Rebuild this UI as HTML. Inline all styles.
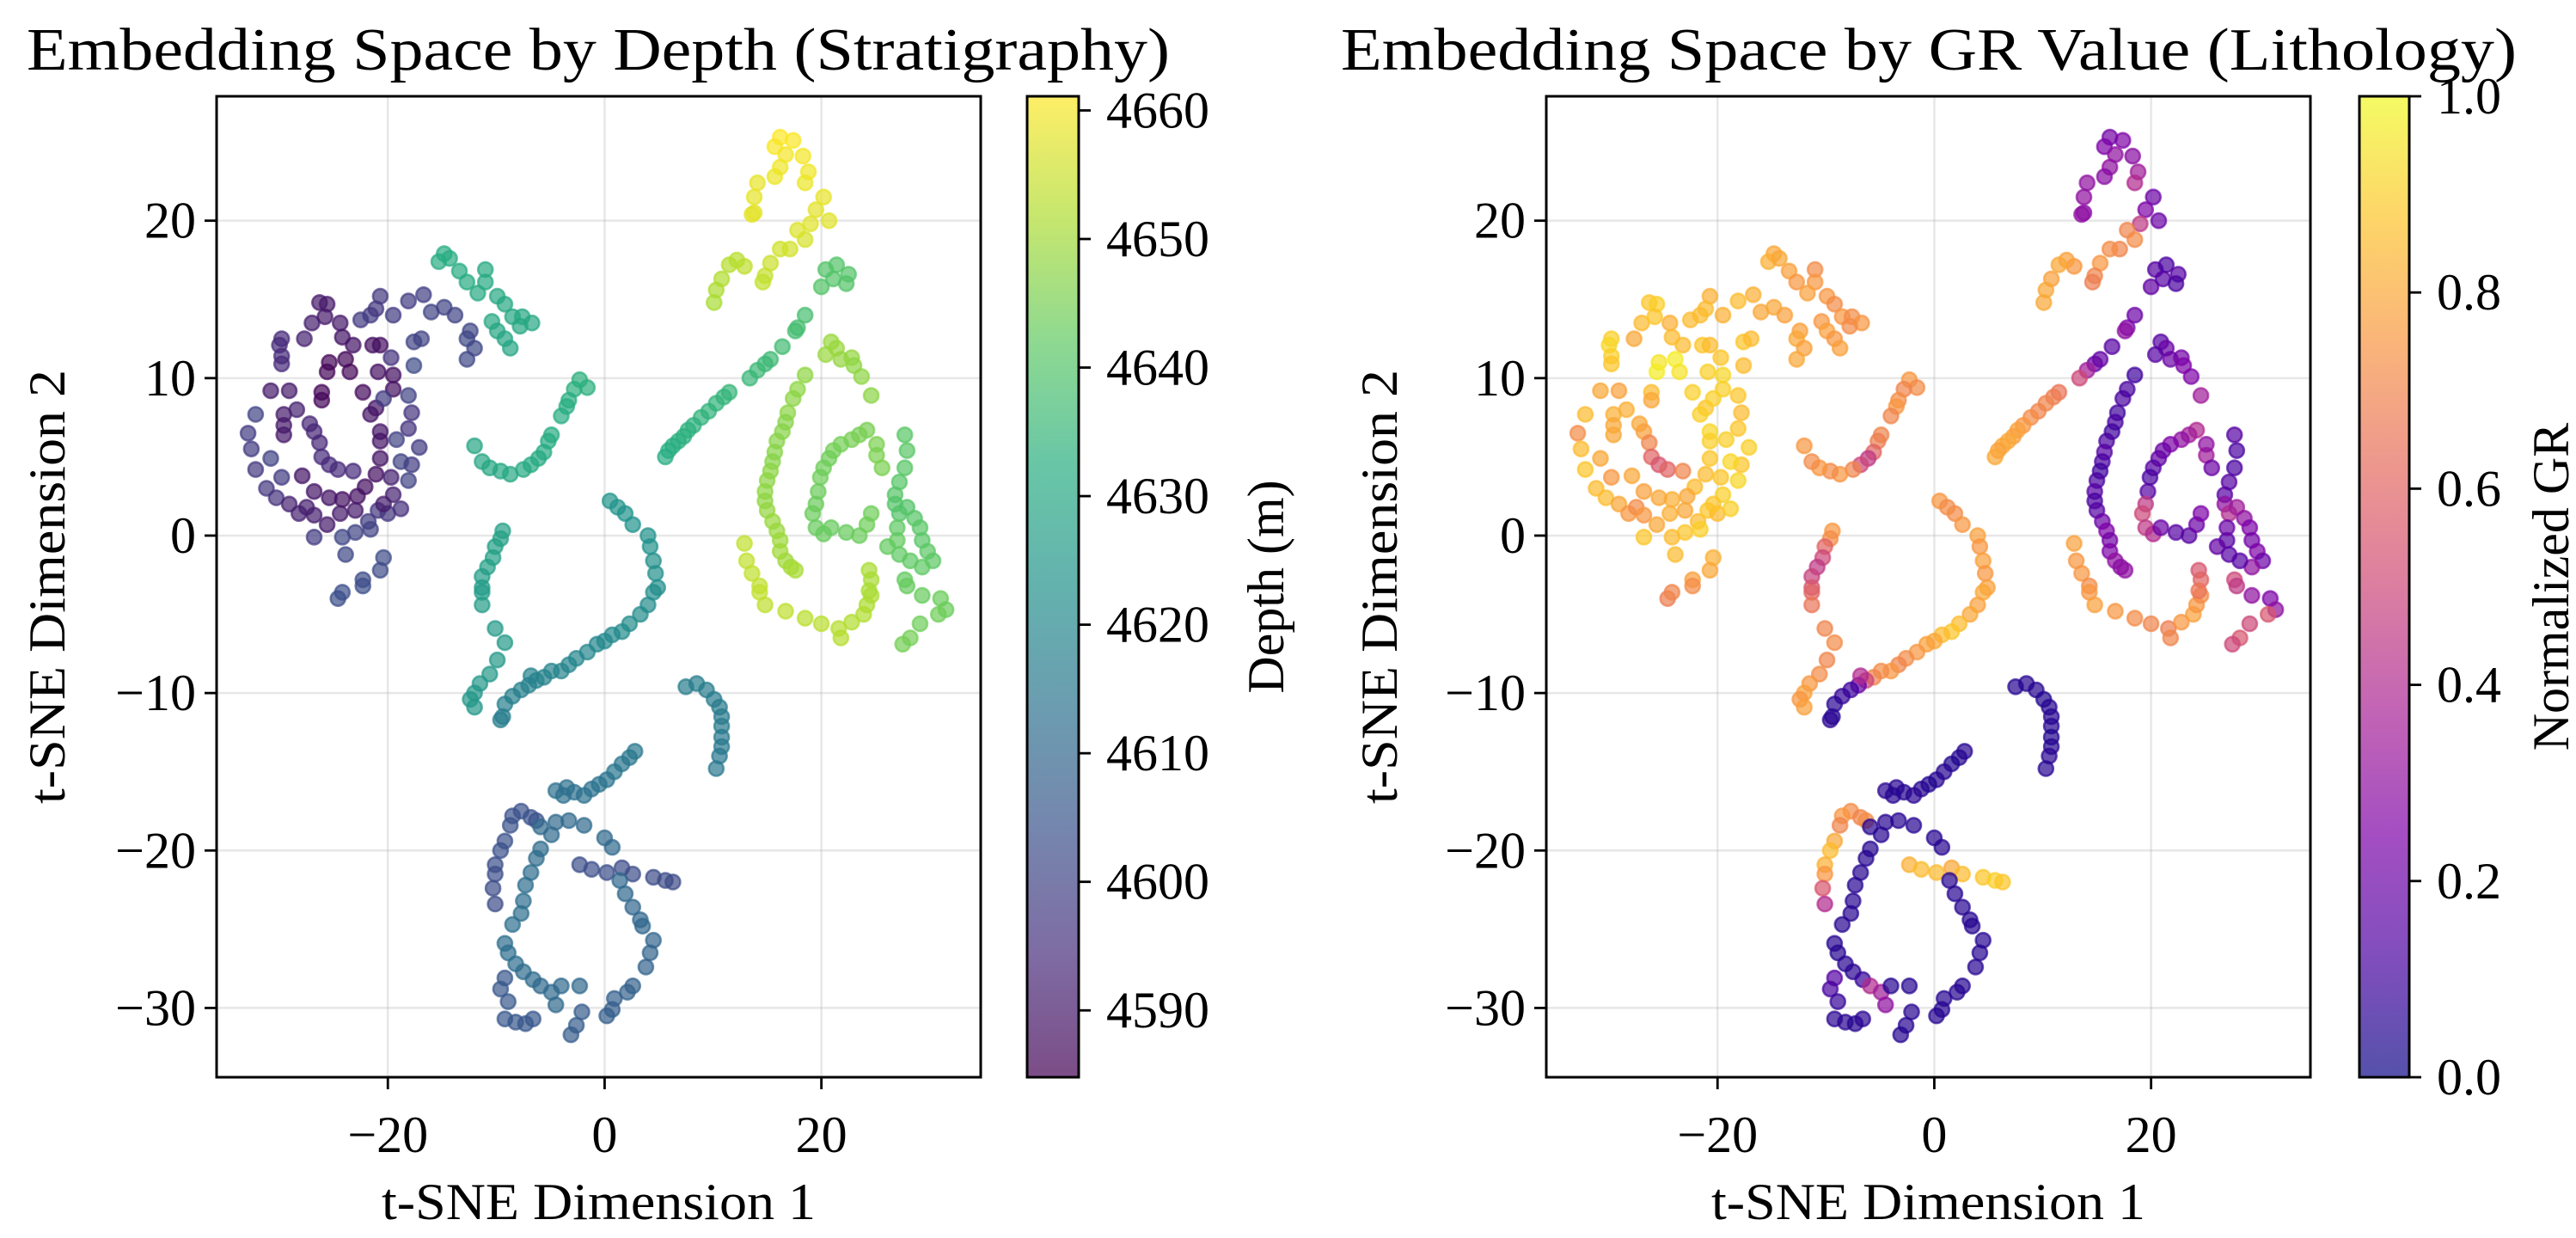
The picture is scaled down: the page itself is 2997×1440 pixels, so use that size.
<!DOCTYPE html>
<html><head><meta charset="utf-8"><title>Embedding Space</title>
<style>
html,body{margin:0;padding:0;background:#fff;}
svg{display:block;font-family:"Liberation Serif","DejaVu Serif",serif;}
</style></head>
<body>
<svg id="fig" width="2997" height="1440" viewBox="0 0 2997 1440" xmlns="http://www.w3.org/2000/svg">
<defs>
<linearGradient id="viridisGrad" x1="0" y1="1" x2="0" y2="0">
<stop offset="0" stop-color="#440154"/><stop offset="0.125" stop-color="#472d7b"/><stop offset="0.25" stop-color="#3b528b"/><stop offset="0.375" stop-color="#2c728e"/><stop offset="0.5" stop-color="#21918c"/><stop offset="0.625" stop-color="#28ae80"/><stop offset="0.75" stop-color="#5ec962"/><stop offset="0.875" stop-color="#addc30"/><stop offset="1" stop-color="#fde725"/>
</linearGradient>
<linearGradient id="plasmaGrad" x1="0" y1="1" x2="0" y2="0">
<stop offset="0" stop-color="#0d0887"/><stop offset="0.125" stop-color="#4c02a1"/><stop offset="0.25" stop-color="#7e03a8"/><stop offset="0.375" stop-color="#a92395"/><stop offset="0.5" stop-color="#cc4778"/><stop offset="0.625" stop-color="#e56b5d"/><stop offset="0.75" stop-color="#f89540"/><stop offset="0.875" stop-color="#fdc328"/><stop offset="1" stop-color="#f0f921"/>
</linearGradient>
</defs>
<text x="696" y="81" font-size="70" text-anchor="middle" textLength="1330" lengthAdjust="spacingAndGlyphs">Embedding Space by Depth (Stratigraphy)</text>
<text x="2244" y="81" font-size="70" text-anchor="middle" textLength="1368" lengthAdjust="spacingAndGlyphs">Embedding Space by GR Value (Lithology)</text>
<g id="leftPanel"></g>
<g id="rightPanel"></g>
</svg>
<script>
// t-SNE points: [x, y, depth(m), normalizedGR]
const clusterTopYellow = [[16.2,25.3,4661,0.22],[15.7,24.7,4660.5,0.25],[17.4,25.1,4660.8,0.25],[16.7,24.2,4660,0.3],[18.3,24.1,4660,0.28],[16.2,23.4,4659.5,0.3],[18.8,23.1,4659.6,0.35],[15.7,22.8,4659,0.28],[18.5,22.4,4659,0.4],[14.1,22.4,4658.5,0.3],[13.8,21.5,4658.2,0.3],[13.8,20.5,4658,0.28],[13.6,20.4,4658,0.3],[20.2,21.5,4658.5,0.2],[19.5,20.7,4658,0.25],[20.7,20.0,4657.5,0.2],[19.0,19.8,4657.5,0.45],[17.8,19.4,4657,0.7],[18.5,18.8,4656.5,0.72],[17.1,18.2,4656,0.7],[16.2,18.2,4655.5,0.72],[15.3,17.3,4655,0.75],[14.8,16.5,4654.5,0.7],[14.6,16.1,4654,0.68],[12.9,17.1,4653.5,0.75],[12.2,17.5,4653,0.78],[11.5,17.2,4652.5,0.8],[10.8,16.3,4652,0.78],[10.3,15.6,4651.5,0.8],[10.1,14.8,4651,0.8]];
const clusterSmallGreen = [[20.4,16.9,4640,0.15],[21.4,17.2,4640,0.12],[22.5,16.6,4640,0.15],[20.0,15.8,4640,0.18],[21.1,16.3,4640,0.15],[22.3,16.0,4640,0.12]];
const clusterDiagonal = [[18.5,14.0,4638,0.2],[17.8,13.2,4638,0.25],[17.6,13.0,4637.5,0.3],[16.4,12.0,4637,0.15],[15.3,11.2,4636.5,0.18],[14.8,10.9,4636,0.2],[14.1,10.5,4636,0.35],[13.4,10.0,4635.5,0.5],[11.5,9.1,4635,0.65],[11.0,8.8,4634.5,0.68],[10.3,8.4,4634.5,0.7],[9.6,7.9,4634,0.7],[8.9,7.5,4634,0.72],[8.2,7.0,4633.5,0.75],[7.7,6.7,4633.5,0.78],[7.3,6.3,4633,0.78],[6.8,6.0,4633,0.8],[6.3,5.7,4632.5,0.8],[5.9,5.4,4632.5,0.78],[5.6,5.0,4632,0.8]];
const clusterLimeTop = [[20.9,12.3,4649,0.15],[21.4,11.9,4649,0.2],[20.4,11.5,4649,0.15],[21.8,11.2,4648.5,0.2],[22.8,11.3,4648.5,0.22],[23.0,10.8,4648,0.25],[23.7,10.1,4648,0.25],[24.6,8.9,4647.5,0.35]];
const clusterLimeColumn = [[18.5,10.2,4648,0.1],[17.8,9.3,4648,0.12],[17.4,8.7,4647.5,0.12],[16.9,7.8,4647.5,0.1],[16.7,7.2,4647,0.12],[16.4,6.6,4647,0.1],[15.9,6.0,4647,0.12],[15.7,5.3,4647,0.15],[15.5,4.7,4647,0.12],[15.3,4.1,4647.5,0.1],[15.0,3.5,4647.5,0.12],[14.8,2.8,4648,0.15],[14.8,2.2,4648,0.12],[15.0,1.6,4648.5,0.15],[15.5,0.9,4649,0.2],[15.9,0.3,4649,0.25],[16.2,-0.3,4649.5,0.22],[16.2,-1.0,4650,0.25],[16.7,-1.6,4650,0.3],[17.2,-2.0,4650.5,0.28],[17.6,-2.2,4651,0.3]];
const clusterLimeArc = [[12.9,-0.5,4654,0.78],[13.1,-1.6,4654,0.75],[13.6,-2.4,4654,0.75],[14.3,-3.2,4654,0.72],[14.3,-3.6,4654,0.75],[14.8,-4.4,4653.5,0.78],[16.7,-4.8,4653.5,0.75],[18.5,-5.25,4653,0.72],[20.0,-5.6,4653,0.7],[21.6,-5.9,4652.5,0.68],[21.8,-6.5,4652.5,0.7],[22.8,-5.5,4652,0.75],[23.9,-5.0,4652,0.78],[24.2,-4.4,4651.5,0.75],[24.6,-3.8,4651.5,0.72],[24.4,-2.2,4651,0.55],[24.6,-2.8,4651,0.6],[24.4,-3.5,4651,0.65]];
const clusterGreenSpiral = [[24.2,6.7,4645,0.4],[23.5,6.4,4645,0.35],[22.8,6.1,4645,0.3],[21.8,5.8,4644.5,0.25],[21.1,5.4,4644.5,0.2],[20.7,4.9,4644,0.18],[20.2,4.3,4644,0.15],[19.9,3.7,4644,0.12],[19.7,2.8,4643.5,0.15],[19.5,2.0,4643.5,0.45],[19.2,1.4,4643.5,0.5],[19.5,0.5,4643,0.45],[20.2,0.1,4643,0.4],[20.9,0.5,4643,0.2],[22.3,0.2,4643,0.15],[23.5,0.0,4643.5,0.15],[24.2,0.7,4644,0.2],[24.6,1.4,4644,0.25],[25.1,5.1,4645.5,0.35],[25.6,4.3,4645.5,0.2],[25.1,5.8,4645.5,0.3]];
const clusterGreenRight = [[27.7,6.4,4641,0.15],[27.9,5.4,4641,0.12],[27.7,4.3,4641,0.12],[27.2,3.4,4640.5,0.15],[26.8,2.6,4640.5,0.15],[26.8,2.0,4640,0.3],[27.2,1.4,4640,0.4],[27.9,1.8,4640,0.35],[28.6,1.1,4640.5,0.3],[29.1,0.5,4641,0.25],[29.3,-0.3,4641,0.22],[29.8,-1.0,4641.5,0.25],[30.3,-1.6,4641.5,0.2],[29.3,-2.0,4642,0.3],[28.2,-1.6,4642,0.15],[27.2,-1.2,4642,0.15],[27.0,-0.3,4642.5,0.15],[27.0,0.5,4642,0.2],[26.1,-0.7,4642.5,0.18],[27.7,-2.8,4642.5,0.5],[27.9,-3.2,4643,0.45],[29.3,-3.8,4643,0.3],[31.0,-4.0,4643.5,0.25],[31.5,-4.7,4643.5,0.3],[30.8,-5.0,4644,0.55],[29.1,-5.6,4644,0.5],[28.2,-6.5,4644.5,0.55],[27.5,-6.9,4644.5,0.5]];
const clusterTealTopLeft = [[-14.8,17.9,4632,0.8],[-15.3,17.4,4632,0.82],[-14.3,17.6,4632,0.8],[-13.4,16.8,4631.5,0.78],[-12.7,16.1,4631.5,0.75],[-11.0,16.9,4631,0.72],[-11.0,16.1,4631,0.75],[-11.7,15.4,4631,0.78],[-9.9,15.2,4630.5,0.75],[-9.2,14.7,4630.5,0.72],[-8.5,13.9,4630,0.75],[-7.6,13.9,4630,0.72],[-6.7,13.5,4630,0.75],[-7.8,13.3,4630,0.72],[-10.4,13.6,4630.5,0.75],[-9.9,13.0,4630,0.78],[-9.2,12.5,4629.5,0.75],[-8.7,11.9,4629.5,0.78]];
const clusterPurpleBlob = [[-26.3,14.8,4590,0.88],[-25.6,14.7,4590,0.9],[-27.0,13.5,4591,0.85],[-25.8,13.9,4590,0.88],[-29.8,12.5,4594,0.9],[-30.0,12.1,4594,0.92],[-29.8,11.4,4594,0.9],[-29.8,10.9,4594,0.88],[-27.7,12.5,4592,0.8],[-24.4,13.5,4590,0.82],[-24.2,12.6,4589,0.85],[-23.2,12.1,4589,0.85],[-25.4,11.0,4586,0.95],[-23.9,11.2,4586,0.97],[-23.5,10.4,4586,0.95],[-25.6,10.4,4586,0.97],[-26.1,9.1,4586,0.85],[-26.1,8.6,4586,0.8],[-30.8,9.2,4590,0.8],[-29.1,9.2,4590,0.78],[-22.3,9.1,4587,0.9],[-21.4,12.1,4588,0.88],[-20.7,12.1,4588,0.85],[-19.7,11.3,4596,0.88],[-20.9,10.4,4588,0.9],[-19.5,10.2,4588,0.92],[-19.5,9.3,4588,0.9],[-21.1,8.1,4589,0.88],[-21.6,7.7,4589,0.9],[-20.7,6.6,4589,0.92],[-20.7,6.0,4589,0.9],[-20.7,4.9,4589,0.88],[-21.1,3.9,4588,0.85],[-22.1,3.1,4588,0.85],[-22.8,2.5,4588,0.8],[-24.2,2.3,4588,0.82],[-25.4,2.4,4589,0.8],[-26.8,2.8,4589,0.78],[-27.9,3.8,4589,0.8],[-29.6,6.4,4590,0.8],[-29.6,7.7,4590,0.82],[-29.6,7.0,4590,0.8],[-28.4,8.0,4592,0.82],[-27.2,7.1,4593,0.8],[-26.8,6.6,4593,0.78],[-26.3,5.9,4593,0.7],[-26.1,5.0,4594,0.6],[-25.4,4.5,4594,0.55],[-24.6,4.2,4594,0.6],[-23.2,4.1,4594,0.7],[-32.2,7.7,4600,0.85],[-32.9,6.5,4598,0.72],[-32.6,5.5,4598,0.85],[-32.2,4.2,4597,0.88],[-31.2,3.0,4597,0.85],[-30.3,2.4,4596,0.85],[-29.1,2.0,4592,0.8],[-28.2,1.4,4592,0.75],[-30.8,4.9,4600,0.8],[-29.8,3.7,4598,0.75],[-27.5,1.8,4591,0.72],[-26.8,1.3,4591,0.75],[-25.6,0.7,4590,0.8],[-24.4,1.4,4590,0.82],[-23.0,1.6,4590,0.8],[-21.8,0.9,4598,0.85],[-20.9,1.6,4597,0.88],[-20.0,1.4,4597,0.85],[-18.8,1.7,4595,0.9],[-18.1,3.5,4600,0.92],[-17.8,4.5,4598,0.88],[-17.1,5.6,4598,0.9],[-18.1,6.8,4596,0.88],[-17.8,7.8,4596,0.85],[-19.2,6.1,4600,0.9],[-18.8,4.7,4600,0.92],[-19.7,3.7,4592,0.88],[-19.5,2.6,4592,0.9],[-20.4,2.0,4591,0.88],[-21.6,0.4,4600,0.9],[-23.0,0.2,4600,0.88],[-24.2,-0.1,4601,0.85],[-23.9,-1.2,4601,0.85],[-26.8,-0.1,4598,0.88],[-20.4,-1.4,4602,0.82],[-20.7,-2.2,4602,0.8],[-22.3,-2.8,4602,0.78],[-18.1,8.9,4600,0.88],[-20.4,8.7,4598,0.9],[-17.6,10.8,4602,0.85],[-17.6,12.3,4600,0.88],[-16.9,12.5,4600,0.85],[-22.5,13.7,4598,0.85],[-21.6,14.0,4598,0.85],[-20.7,15.2,4597,0.82],[-21.1,14.4,4597,0.85],[-19.5,14.0,4598,0.82],[-18.1,14.9,4598,0.85],[-16.7,15.3,4599,0.82],[-16.0,14.2,4600,0.8],[-14.8,14.5,4600,0.8],[-13.8,14.0,4600,0.78],[-12.4,13.0,4601,0.78],[-12.7,12.5,4601,0.8],[-12.0,11.9,4601,0.78],[-12.7,11.2,4601,0.8],[-24.6,-4.0,4603,0.68],[-24.2,-3.6,4603,0.7],[-22.3,-3.2,4603,0.72]];
const clusterTealJ = [[-2.3,9.9,4633,0.75],[-1.6,9.4,4633,0.72],[-2.8,9.3,4633,0.7],[-3.3,8.6,4632.5,0.72],[-3.5,8.2,4632.5,0.75],[-4.0,7.6,4632,0.7],[-4.9,6.4,4632,0.7],[-5.2,6.0,4631.5,0.68],[-5.6,5.3,4631.5,0.6],[-6.1,4.9,4631,0.45],[-6.8,4.5,4631,0.5],[-7.5,4.2,4631,0.7],[-8.7,3.9,4630.5,0.75],[-9.6,4.1,4630.5,0.72],[-10.6,4.3,4630,0.75],[-11.3,4.7,4630,0.72],[-12.0,5.7,4629.5,0.75]];
const clusterTealColumn = [[-9.4,0.3,4628,0.75],[-9.6,-0.2,4628,0.72],[-10.1,-0.7,4628,0.6],[-10.3,-1.4,4627.5,0.5],[-10.8,-2.0,4627.5,0.45],[-11.3,-2.6,4627,0.48],[-11.3,-3.3,4627,0.55],[-11.3,-3.6,4627,0.6],[-11.3,-4.4,4626.5,0.65],[-10.1,-5.9,4626,0.7],[-9.2,-6.8,4626,0.72],[-9.9,-7.9,4625.5,0.7],[-10.6,-8.8,4625.5,0.72],[-11.5,-9.4,4625,0.75],[-12.0,-10.0,4625,0.78],[-12.4,-10.4,4625,0.75],[-12.0,-10.9,4625,0.78]];
const clusterLongDiagonal = [[0.5,2.2,4624,0.75],[1.2,1.8,4624,0.72],[1.9,1.4,4623.5,0.72],[2.6,0.7,4623.5,0.75],[4.0,0.0,4623,0.78],[4.2,-0.7,4623,0.75],[4.5,-1.6,4622.5,0.78],[4.7,-2.4,4622.5,0.75],[4.9,-3.3,4622,0.78],[4.5,-3.6,4622,0.8],[4.0,-4.4,4621.5,0.78],[3.3,-5.0,4621.5,0.8],[2.3,-5.6,4621,0.85],[1.6,-6.1,4621,0.88],[0.7,-6.3,4620.5,0.85],[0,-6.7,4620.5,0.8],[-0.7,-6.9,4620,0.78],[-1.6,-7.4,4620,0.75],[-2.6,-7.8,4619.5,0.72],[-3.3,-8.2,4619.5,0.7],[-4.0,-8.6,4619,0.75],[-4.9,-8.6,4619,0.72],[-5.6,-9.0,4618.5,0.7],[-6.3,-9.2,4618.5,0.5],[-7.0,-9.5,4618,0.2],[-7.7,-9.8,4618,0.1],[-8.5,-10.2,4617.5,0.08],[-9.2,-10.7,4617.5,0.06],[-9.4,-11.5,4617,0.05],[-9.6,-11.7,4617,0.06],[-6.8,-8.9,4618,0.4]];
const clusterTealArc = [[7.5,-9.6,4617,0.05],[8.5,-9.4,4617,0.05],[9.4,-9.8,4616.5,0.05],[10.1,-10.4,4616.5,0.04],[10.6,-10.9,4616,0.05],[10.8,-11.5,4616,0.05],[10.8,-12.1,4616,0.05],[10.8,-12.8,4615.5,0.04],[10.8,-13.4,4615.5,0.05],[10.6,-14.0,4615,0.06],[10.3,-14.8,4615,0.05]];
const clusterShortLine = [[2.8,-13.7,4615,0.05],[2.3,-14.1,4615,0.05],[1.6,-14.5,4614.5,0.04],[0.9,-15.0,4614.5,0.05],[0.2,-15.5,4614,0.05],[-0.5,-15.8,4614,0.04],[-1.2,-16.1,4613.5,0.05],[-1.9,-16.5,4613.5,0.06],[-2.8,-16.3,4613,0.05],[-3.5,-16.0,4613,0.05],[-4.5,-16.2,4613,0.06],[-3.8,-16.5,4613,0.05]];
const clusterLoopLeft = [[-7.7,-17.5,4604,0.72],[-8.5,-17.8,4604,0.75],[-6.8,-17.9,4604,0.7],[-6.3,-18.1,4604,0.72],[-8.7,-18.4,4604,0.7],[-9.2,-19.4,4603.5,0.8],[-9.6,-20.0,4603.5,0.85],[-10.1,-20.9,4603,0.82],[-10.1,-21.5,4603,0.75],[-10.3,-22.4,4602.5,0.55],[-10.1,-23.4,4602.5,0.4]];
const clusterLoopInner = [[-5.9,-18.5,4611,0.05],[-4.5,-18.2,4611,0.05],[-3.3,-18.1,4611,0.05],[-1.9,-18.4,4611,0.05],[-4.9,-19.0,4611,0.05],[-5.9,-19.9,4611.5,0.05],[-6.3,-20.5,4611.5,0.05],[-6.8,-21.4,4612,0.05],[-7.3,-22.2,4612,0.05],[-7.5,-23.2,4612,0.05],[-7.7,-24.0,4612.5,0.05],[-8.5,-24.7,4612.5,0.05],[-9.2,-25.9,4612,0.05],[-8.9,-26.5,4612,0.05],[-8.2,-27.2,4612,0.05],[-7.5,-27.7,4611.5,0.06],[-6.6,-28.2,4611.5,0.08],[-5.9,-28.6,4611,0.4],[-4.9,-29.0,4611,0.35],[-4.0,-28.6,4611,0.05],[-2.3,-28.6,4611,0.05],[-4.5,-29.8,4611,0.3]];
const clusterLoopBar = [[-2.3,-20.9,4603,0.82],[-1.2,-21.2,4603,0.85],[0.2,-21.4,4603,0.85],[1.6,-21.1,4602.5,0.8],[2.6,-21.5,4602.5,0.85],[4.5,-21.7,4602,0.88],[5.6,-21.9,4602,0.9],[6.3,-22.0,4602,0.88]];
const clusterLoopRight = [[0,-19.2,4611,0.05],[0.7,-19.8,4611,0.05],[1.4,-21.9,4610.5,0.05],[1.9,-22.75,4610.5,0.05],[2.6,-23.6,4610,0.05],[3.3,-24.4,4610,0.05],[3.5,-24.8,4610,0.05],[4.5,-25.7,4609.5,0.05],[4.2,-26.5,4609.5,0.05],[3.8,-27.4,4609,0.05],[2.6,-28.6,4608.5,0.05],[2.1,-29.0,4608.5,0.05],[0.9,-29.4,4608,0.05],[0.2,-30.5,4607.5,0.05],[0.7,-30.1,4607.5,0.05]];
const clusterLoopBottom = [[-9.2,-28.1,4606,0.15],[-9.6,-28.8,4606,0.12],[-8.9,-29.6,4606,0.08],[-9.2,-30.7,4605.5,0.06],[-8.2,-30.9,4605.5,0.06],[-7.3,-31.0,4605.5,0.05],[-6.6,-30.7,4605.5,0.06],[-2.1,-30.25,4607,0.05],[-2.6,-31.1,4607,0.05],[-3.1,-31.7,4607,0.05]];

const xTicks = [-20, 0, 20];
const yTicks = [-30, -20, -10, 0, 10, 20];
const depthTicks = [4590, 4600, 4610, 4620, 4630, 4640, 4650, 4660];
const grTicks = [0.0, 0.2, 0.4, 0.6, 0.8, 1.0];

const allPoints = [].concat(clusterTopYellow, clusterSmallGreen, clusterDiagonal, clusterLimeTop, clusterLimeColumn, clusterLimeArc, clusterGreenSpiral, clusterGreenRight, clusterTealTopLeft, clusterPurpleBlob, clusterTealJ, clusterTealColumn, clusterLongDiagonal, clusterTealArc, clusterShortLine, clusterLoopLeft, clusterLoopInner, clusterLoopBar, clusterLoopRight, clusterLoopBottom);

const NS = "http://www.w3.org/2000/svg";
const VIR = ["#440154","#472d7b","#3b528b","#2c728e","#21918c","#28ae80","#5ec962","#addc30","#fde725"];
const PLA = ["#0d0887","#4c02a1","#7e03a8","#a92395","#cc4778","#e56b5d","#f89540","#fdc328","#f0f921"];
function hex(h){return [parseInt(h.substr(1,2),16),parseInt(h.substr(3,2),16),parseInt(h.substr(5,2),16)];}
function cmap(stops,t){t=Math.max(0,Math.min(1,t));const n=stops.length-1;const i=Math.min(n-1,Math.floor(t*n));const f=t*n-i;const a=hex(stops[i]),b=hex(stops[i+1]);return "rgb("+a.map((v,k)=>Math.round(v+(b[k]-v)*f)).join(",")+")";}
function mk(tag,attrs,parent){const e=document.createElementNS(NS,tag);for(const k in attrs)e.setAttribute(k,attrs[k]);parent.appendChild(e);return e;}

const X_DOM=[-35.8,34.7], Y_DOM=[-34.4,27.9];
const AX_TOP=112, AX_BOT=1253;
const DEPTH_DOM=[4584.8,4661.1], GR_DOM=[0,1];

function makeX(left,right){return v=>left+(v-X_DOM[0])/(X_DOM[1]-X_DOM[0])*(right-left);}
function yScale(v){return AX_BOT-(v-Y_DOM[0])/(Y_DOM[1]-Y_DOM[0])*(AX_BOT-AX_TOP);}
function cbScale(dom){return v=>AX_BOT-(v-dom[0])/(dom[1]-dom[0])*(AX_BOT-AX_TOP);}

function fmtNum(v){return v<0?"\u2212"+Math.abs(v):String(v);}

function drawPanel(g,left,right,valIdx,stops,dom,cbLeft,cbW,gradId,cbTicks,cbFmt,cbLabel,cbLabelX,ylabX,prefix){
  const xs=makeX(left,right);
  xTicks.forEach(t=>{const l=mk("line",{x1:xs(t),x2:xs(t),y1:AX_TOP,y2:AX_BOT,stroke:"#b0b0b0","stroke-opacity":0.3,"stroke-width":2.5},g);
    
    });
  yTicks.forEach(t=>{const l=mk("line",{x1:left,x2:right,y1:yScale(t),y2:yScale(t),stroke:"#b0b0b0","stroke-opacity":0.3,"stroke-width":2.5},g);
    
    });
  const pg=mk("g",{},g);
  
  
  allPoints.forEach(p=>{
    const t=(p[valIdx]-dom[0])/(dom[1]-dom[0]);
    const c=cmap(stops,t);
    const el=mk("circle",{cx:xs(p[0]).toFixed(1),cy:yScale(p[1]).toFixed(1),r:8.5,fill:c,"fill-opacity":0.7,stroke:c,"stroke-opacity":0.7,"stroke-width":2.6},pg);
    
    
  });
  const fr=mk("rect",{x:left,y:AX_TOP,width:right-left,height:AX_BOT-AX_TOP,fill:"none",stroke:"#000","stroke-width":3},g);
  
  
  xTicks.forEach(t=>{
    const tk=mk("line",{x1:xs(t),x2:xs(t),y1:AX_BOT,y2:AX_BOT+14,stroke:"#000","stroke-width":2.8},g);
    
    
    const tx=mk("text",{x:xs(t),y:1340,"font-size":60,"text-anchor":"middle"},g);
    tx.textContent=fmtNum(t);
    
    
  });
  yTicks.forEach(t=>{
    const tk=mk("line",{x1:left-14,x2:left,y1:yScale(t),y2:yScale(t),stroke:"#000","stroke-width":2.8},g);
    
    
    const tx=mk("text",{x:left-24,y:yScale(t)+20,"font-size":60,"text-anchor":"end"},g);
    tx.textContent=fmtNum(t);
    
    
  });
  const xl=mk("text",{x:(left+right)/2,y:1418,"font-size":60,"text-anchor":"middle",textLength:505,lengthAdjust:"spacingAndGlyphs"},g);
  xl.textContent="t-SNE Dimension 1";
  
  
  const yl=mk("text",{x:0,y:0,"font-size":60,"text-anchor":"middle",transform:"translate("+ylabX+","+((AX_TOP+AX_BOT)/2)+") rotate(-90)",textLength:505,lengthAdjust:"spacingAndGlyphs"},g);
  yl.textContent="t-SNE Dimension 2";
  
  
  const sc=cbScale(dom);
  const cb=mk("rect",{x:cbLeft,y:AX_TOP,width:cbW,height:AX_BOT-AX_TOP,fill:"url(#"+gradId+")","fill-opacity":0.7,stroke:"#000","stroke-width":3},g);
  
  
  cbTicks.forEach(t=>{
    const yy=sc(t);
    const tk=mk("line",{x1:cbLeft+cbW,x2:cbLeft+cbW+14,y1:yy,y2:yy,stroke:"#000","stroke-width":2.8},g);
    
    
    const tx=mk("text",{x:cbLeft+cbW+32,y:yy+20,"font-size":60,"text-anchor":"start"},g);
    tx.textContent=cbFmt(t);
    
    
  });
  const cl=mk("text",{x:0,y:0,"font-size":60,"text-anchor":"middle",transform:"translate("+cbLabelX+","+((AX_TOP+AX_BOT)/2)+") rotate(-90)"},g);
  cl.textContent=cbLabel;
  
  
}

drawPanel(document.getElementById("leftPanel"),252,1141,2,VIR,DEPTH_DOM,1195,60,"viridisGrad",depthTicks,t=>String(t),"Depth (m)",1493,75,"depth-");
drawPanel(document.getElementById("rightPanel"),1799,2688,3,PLA,GR_DOM,2745,58,"plasmaGrad",grTicks,t=>t.toFixed(1),"Normalized GR",2988,1625,"gr-");
</script>
</body></html>
